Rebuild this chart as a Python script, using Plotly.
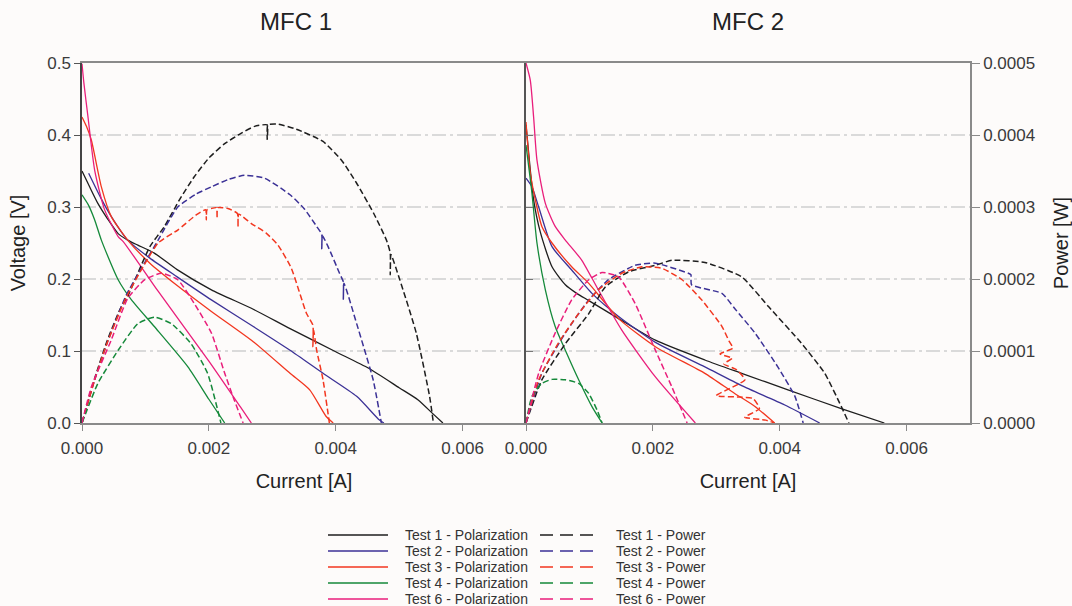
import plotly.graph_objects as go

FONT = "Liberation Sans, Arial, sans-serif"

# ---------------- data ----------------
test_names = ["Test 1", "Test 2", "Test 3", "Test 4", "Test 6"]
test_colors = ["#1e1e1e", "#3b3196", "#f2361f", "#15893a", "#e91e7b"]

x_ticks = [0.0, 0.002, 0.004, 0.006]
v_ticks = [0.0, 0.1, 0.2, 0.3, 0.4, 0.5]
p_ticks = [0.0, 0.0001, 0.0002, 0.0003, 0.0004, 0.0005]

# MFC 1 - polarization (current [A], voltage [V])
m1_t1_pol_i = [0, 0.00012, 0.00025, 0.0004, 0.00057, 0.00072, 0.00088, 0.00114, 0.0015, 0.00204, 0.0027, 0.00328, 0.004, 0.00452, 0.005, 0.0053, 0.00553, 0.00569]
m1_t1_pol_v = [0.350, 0.328, 0.305, 0.284, 0.263, 0.254, 0.247, 0.236, 0.213, 0.185, 0.158, 0.131, 0.099, 0.076, 0.049, 0.032, 0.013, 0.0]
m1_t2_pol_i = [0.000105, 0.0003, 0.00046, 0.00072, 0.00107, 0.0015, 0.00204, 0.0027, 0.00328, 0.0038, 0.00433, 0.00469, 0.00476]
m1_t2_pol_v = [0.347, 0.312, 0.287, 0.254, 0.229, 0.203, 0.171, 0.134, 0.101, 0.069, 0.037, 0.004, 0.0]
m1_t3_pol_i = [0, 0.00007, 0.000147, 0.000305, 0.00046, 0.00072, 0.00107, 0.0015, 0.00204, 0.0027, 0.00328, 0.00359, 0.00385, 0.00396]
m1_t3_pol_v = [0.425, 0.412, 0.393, 0.328, 0.287, 0.254, 0.222, 0.191, 0.155, 0.113, 0.069, 0.046, 0.009, 0.0]
m1_t4_pol_i = [0, 0.0001, 0.0002, 0.000305, 0.00057, 0.00078, 0.00114, 0.00167, 0.002, 0.00225]
m1_t4_pol_v = [0.317, 0.303, 0.282, 0.254, 0.199, 0.171, 0.134, 0.078, 0.033, 0.0]
m1_t6_pol_i = [0, 0.00003, 0.0000945, 0.0002, 0.000357, 0.00057, 0.00065, 0.0012, 0.002, 0.0025, 0.00267]
m1_t6_pol_v = [0.499, 0.472, 0.425, 0.351, 0.296, 0.259, 0.252, 0.183, 0.086, 0.022, 0.0]

# MFC 1 - power (current [A], power [W])
m1_t1_pow_i = [0, 0.0002, 0.0004, 0.0006, 0.00072, 0.00107, 0.0013, 0.00155, 0.00177, 0.002, 0.00225, 0.0025, 0.00272, 0.00292, 0.00292, 0.00293, 0.00309, 0.00338, 0.0038, 0.0041, 0.00433, 0.0046, 0.0048, 0.00486, 0.00486, 0.00487, 0.00501, 0.00527, 0.00548, 0.00554]
m1_t1_pow_p = [0, 0.000062, 0.000115, 0.000158, 0.000176, 0.000245, 0.000273, 0.000312, 0.000342, 0.000368, 0.000388, 0.000402, 0.000412, 0.000414, 0.000394, 0.000414, 0.000415, 0.000408, 0.000391, 0.000364, 0.000333, 0.000291, 0.000254, 0.000236, 0.000206, 0.000234, 0.000199, 0.000125, 0.000037, 0.0]
m1_t2_pow_i = [0, 0.0002, 0.0004, 0.0007, 0.0012, 0.00151, 0.0018, 0.00204, 0.0023, 0.00256, 0.00288, 0.00328, 0.0035, 0.0037, 0.00378, 0.00378, 0.00379, 0.00388, 0.00406, 0.00412, 0.00412, 0.00413, 0.00433, 0.00459, 0.00472]
m1_t2_pow_p = [0, 0.00006, 0.000112, 0.000178, 0.000254, 0.0003, 0.000318, 0.000328, 0.000338, 0.000344, 0.00034, 0.000317, 0.000298, 0.000273, 0.000262, 0.000242, 0.000260, 0.000245, 0.000208, 0.000196, 0.000172, 0.000194, 0.000138, 0.00006, 0.0]
m1_t3_pow_i = [0, 0.0002, 0.0004, 0.0007, 0.0012, 0.00151, 0.0018, 0.00195, 0.00196, 0.00197, 0.00204, 0.00212, 0.00213, 0.00214, 0.0023, 0.00245, 0.00246, 0.00247, 0.00267, 0.0029, 0.00309, 0.0033, 0.00354, 0.00364, 0.00364, 0.00365, 0.0037, 0.0038, 0.0039]
m1_t3_pow_p = [0, 0.00006, 0.000112, 0.000175, 0.00025, 0.000268, 0.000289, 0.000296, 0.000282, 0.000296, 0.000298, 0.000299, 0.000284, 0.000299, 0.000298, 0.000291, 0.000272, 0.000290, 0.000277, 0.000264, 0.000247, 0.000215, 0.000152, 0.000136, 0.000106, 0.000130, 0.000101, 0.00006, 0.0]
m1_t4_pow_i = [0, 0.00025, 0.00057, 0.00088, 0.00114, 0.00141, 0.00172, 0.00198, 0.00219]
m1_t4_pow_p = [0, 0.000055, 0.000101, 0.000138, 0.000147, 0.000138, 0.00011, 0.000069, 0.0]
m1_t6_pow_i = [0, 0.000147, 0.00046, 0.00072, 0.00099, 0.00125, 0.00151, 0.00177, 0.00204, 0.00225, 0.0024, 0.00254]
m1_t6_pow_p = [0, 0.00005, 0.000115, 0.000173, 0.000199, 0.000208, 0.000199, 0.000166, 0.000125, 0.000069, 0.000032, 0.0]

# MFC 2 - polarization
m2_t1_pol_i = [0, 0.000068, 0.00012, 0.000226, 0.00041, 0.00062, 0.0008, 0.00099, 0.00146, 0.00204, 0.00282, 0.0034, 0.00413, 0.00497, 0.00565]
m2_t1_pol_v = [0.414, 0.351, 0.31, 0.265, 0.217, 0.192, 0.180, 0.170, 0.145, 0.115, 0.0875, 0.069, 0.046, 0.020, 0.0]
m2_t2_pol_i = [0, 0.000094, 0.0002, 0.00041, 0.00072, 0.00104, 0.00146, 0.00204, 0.00282, 0.0034, 0.00408, 0.00463]
m2_t2_pol_v = [0.34, 0.328, 0.30, 0.245, 0.2125, 0.18, 0.148, 0.112, 0.078, 0.052, 0.025, 0.0]
m2_t3_pol_i = [0, 0.000068, 0.000147, 0.00025, 0.00041, 0.00072, 0.00099, 0.00146, 0.00204, 0.00282, 0.00329, 0.00361, 0.00392]
m2_t3_pol_v = [0.418, 0.347, 0.31, 0.273, 0.25, 0.217, 0.194, 0.145, 0.106, 0.069, 0.041, 0.023, 0.0]
m2_t4_pol_i = [0, 0.000094, 0.000173, 0.000305, 0.00046, 0.00062, 0.00083, 0.00104, 0.0012]
m2_t4_pol_v = [0.386, 0.319, 0.25, 0.185, 0.134, 0.101, 0.06, 0.0227, 0.0]
m2_t6_pol_i = [0, 0.000068, 0.00012, 0.000173, 0.000305, 0.00046, 0.00062, 0.00088, 0.00114, 0.00151, 0.00204, 0.00267]
m2_t6_pol_v = [0.5, 0.476, 0.425, 0.365, 0.305, 0.273, 0.254, 0.226, 0.185, 0.129, 0.064, 0.0]

# MFC 2 - power
m2_t1_pow_i = [0, 0.00025, 0.00062, 0.00099, 0.00125, 0.00162, 0.00204, 0.0023, 0.00282, 0.0034, 0.00382, 0.00434, 0.00471, 0.00497, 0.00509]
m2_t1_pow_p = [0, 0.00006, 0.00011, 0.000152, 0.000189, 0.00021, 0.000219, 0.000226, 0.000223, 0.000203, 0.000162, 0.000111, 0.000069, 0.000023, 0.0]
m2_t2_pow_i = [0, 0.00025, 0.00062, 0.00099, 0.0013, 0.00172, 0.00204, 0.00256, 0.00260, 0.00261, 0.00309, 0.00329, 0.00361, 0.00397, 0.00424, 0.00437]
m2_t2_pow_p = [0, 0.000069, 0.000125, 0.000171, 0.000199, 0.000219, 0.000222, 0.000208, 0.000206, 0.000192, 0.00018, 0.000159, 0.000125, 0.000078, 0.000037, 0.0]
m2_t3_pow_i = [0, 0.0002, 0.00051, 0.00083, 0.00114, 0.00151, 0.00183, 0.00214, 0.00246, 0.00277, 0.00309, 0.00320, 0.00326, 0.00306, 0.00325, 0.00312, 0.00332, 0.00345, 0.00300, 0.00338, 0.00358, 0.00368, 0.00345, 0.00378, 0.00392]
m2_t3_pow_p = [0, 0.00006, 0.000111, 0.000152, 0.000185, 0.000208, 0.000217, 0.000215, 0.000199, 0.000171, 0.000134, 0.000114, 0.000104, 0.000096, 0.000090, 0.000082, 0.000074, 0.000060, 0.000038, 0.000036, 0.000034, 0.000020, 0.000008, 0.000004, 0.0]
m2_t4_pow_i = [0, 0.000094, 0.00025, 0.00041, 0.00062, 0.00083, 0.00099, 0.00112, 0.0012]
m2_t4_pow_p = [0, 0.000037, 0.000055, 0.0000606, 0.00006, 0.000055, 0.000041, 0.000018, 0.0]
m2_t6_pow_i = [0, 0.0002, 0.00046, 0.00072, 0.00099, 0.0012, 0.00146, 0.00172, 0.00204, 0.0023, 0.00254]
m2_t6_pow_p = [0, 0.000069, 0.000125, 0.000171, 0.000199, 0.000209, 0.000203, 0.000166, 0.000101, 0.00005, 0.0]

# ---------------- figure ----------------
mfc1_pol = [(m1_t1_pol_i, m1_t1_pol_v), (m1_t2_pol_i, m1_t2_pol_v), (m1_t3_pol_i, m1_t3_pol_v),
            (m1_t4_pol_i, m1_t4_pol_v), (m1_t6_pol_i, m1_t6_pol_v)]
mfc1_pow = [(m1_t1_pow_i, m1_t1_pow_p), (m1_t2_pow_i, m1_t2_pow_p), (m1_t3_pow_i, m1_t3_pow_p),
            (m1_t4_pow_i, m1_t4_pow_p), (m1_t6_pow_i, m1_t6_pow_p)]
mfc2_pol = [(m2_t1_pol_i, m2_t1_pol_v), (m2_t2_pol_i, m2_t2_pol_v), (m2_t3_pol_i, m2_t3_pol_v),
            (m2_t4_pol_i, m2_t4_pol_v), (m2_t6_pol_i, m2_t6_pol_v)]
mfc2_pow = [(m2_t1_pow_i, m2_t1_pow_p), (m2_t2_pow_i, m2_t2_pow_p), (m2_t3_pow_i, m2_t3_pow_p),
            (m2_t4_pow_i, m2_t4_pow_p), (m2_t6_pow_i, m2_t6_pow_p)]

DASH = "6px,3px"
fig = go.Figure()

for k, name in enumerate(test_names):
    c = test_colors[k]
    fig.add_trace(go.Scatter(x=mfc1_pol[k][0], y=mfc1_pol[k][1], mode="lines", xaxis="x", yaxis="y",
                             line=dict(color=c, width=1.3, shape="spline", smoothing=0.6),
                             name=f"{name} - Polarization", showlegend=False))
    fig.add_trace(go.Scatter(x=mfc1_pow[k][0], y=mfc1_pow[k][1], mode="lines", xaxis="x", yaxis="y3",
                             line=dict(color=c, width=1.5, dash=DASH, shape="spline", smoothing=0.5),
                             name=f"{name} - Power", showlegend=False))
    fig.add_trace(go.Scatter(x=mfc2_pol[k][0], y=mfc2_pol[k][1], mode="lines", xaxis="x2", yaxis="y2",
                             line=dict(color=c, width=1.3, shape="spline", smoothing=0.6),
                             name=f"{name} - Polarization", showlegend=False))
    fig.add_trace(go.Scatter(x=mfc2_pow[k][0], y=mfc2_pow[k][1], mode="lines", xaxis="x2", yaxis="y4",
                             line=dict(color=c, width=1.5, dash=DASH, shape="spline", smoothing=0.5),
                             name=f"{name} - Power", showlegend=False))

L, R, T, B = 82, 102, 63, 183
W, H = 1072, 606
PW, PH = W - L - R, H - T - B


def px_x(px):
    return (px - L) / PW


def px_y(py):
    return (H - B - py) / PH


AX_LINE = "#8a8a8a"
TICK_FONT = dict(family=FONT, size=17, color="#3a3a3a")
TITLE_FONT = dict(family=FONT, size=20, color="#222222")
GRID = dict(showgrid=True, gridcolor="#dadada", gridwidth=1.5, griddash="14px,4px,3px,4px")

xcommon = dict(range=[0, 0.007], tickvals=x_ticks, tickformat=".3f", ticks="outside", ticklen=6,
               tickcolor=AX_LINE, showline=True, linecolor=AX_LINE, linewidth=1.5, mirror=True,
               showgrid=False, zeroline=False, tickfont=TICK_FONT, ticklabelstandoff=3,
               automargin=False,
               title=dict(text="Current [A]", font=TITLE_FONT, standoff=17))

fig.update_layout(
    width=W, height=H,
    margin=dict(l=L, r=R, t=T, b=B, autoexpand=False),
    paper_bgcolor="#fdfbfa", plot_bgcolor="#fdfbfa",
    font=dict(family=FONT),
    showlegend=False,
    xaxis=dict(domain=[0, 0.5], anchor="y", **xcommon),
    xaxis2=dict(domain=[0.5, 1], anchor="y2", **xcommon),
    yaxis=dict(domain=[0, 1], anchor="x", range=[0, 0.5], tickvals=v_ticks, tickformat=".1f",
               ticks="outside", ticklen=6, tickcolor="#555555", showline=True, linecolor="#444444",
               linewidth=1.5, zeroline=False, tickfont=TICK_FONT, automargin=False,
               title=dict(text="Voltage [V]", font=TITLE_FONT, standoff=16), **GRID),
    yaxis2=dict(domain=[0, 1], anchor="x2", range=[0, 0.5], tickvals=v_ticks, showticklabels=False,
                ticks="inside", ticklen=7, tickcolor="#777777", showline=True, linecolor="#555555",
                linewidth=1.5, zeroline=False, automargin=False, **GRID),
    yaxis3=dict(overlaying="y", anchor="x", range=[0, 0.0005], visible=False, automargin=False),
    yaxis4=dict(overlaying="y2", anchor="x2", side="right", range=[0, 0.0005], tickvals=p_ticks,
                tickformat=".4f", ticks="outside", ticklen=8, tickcolor=AX_LINE, showline=True,
                linecolor=AX_LINE, linewidth=1.5, showgrid=False, zeroline=False, tickfont=TICK_FONT,
                automargin=False,
                title=dict(text="Power [W]", font=TITLE_FONT, standoff=22)),
)

# panel titles
for xp, txt in [(px_x(296), "MFC 1"), (px_x(748), "MFC 2")]:
    fig.add_annotation(x=xp, y=px_y(22), xref="paper", yref="paper", text=txt, showarrow=False,
                       xanchor="center", yanchor="middle", font=dict(family=FONT, size=24, color="#222222"))

# legend (two columns: polarization solid, power dashed)
row_y = [535, 551, 567, 583, 599]
for k, name in enumerate(test_names):
    c = test_colors[k]
    yy = px_y(row_y[k])
    fig.add_shape(type="line", xref="paper", yref="paper", x0=px_x(328), x1=px_x(388), y0=yy, y1=yy,
                  line=dict(color=c, width=1.5))
    fig.add_shape(type="line", xref="paper", yref="paper", x0=px_x(540), x1=px_x(594), y0=yy, y1=yy,
                  line=dict(color=c, width=1.5, dash="13px,7px"))
    fig.add_annotation(x=px_x(403), y=yy, xref="paper", yref="paper", text=f"{name} - Polarization",
                       showarrow=False, xanchor="left", yanchor="middle",
                       font=dict(family=FONT, size=14, color="#333333"))
    fig.add_annotation(x=px_x(614), y=yy, xref="paper", yref="paper", text=f"{name} - Power",
                       showarrow=False, xanchor="left", yanchor="middle",
                       font=dict(family=FONT, size=14, color="#333333"))

fig.write_html("out.html")
